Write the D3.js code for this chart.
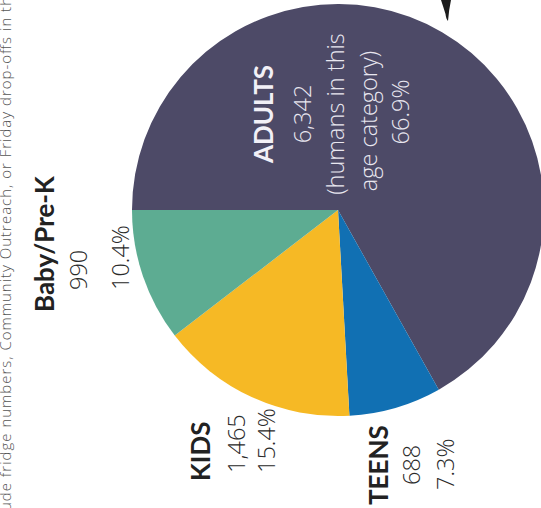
<!DOCTYPE html>
<html>
<head>
<meta charset="utf-8">
<script src="https://cdn.jsdelivr.net/npm/d3@7"></script>
<style>
  html, body { margin: 0; padding: 0; background: #ffffff; }
  svg { display: block; }
</style>
</head>
<body>
<svg id="chart" width="541" height="508"></svg>
<script>
// ---- data ----
const categories = ["ADULTS", "TEENS", "KIDS", "Baby/Pre-K"];
const values = [6342, 688, 1465, 990];
const countLabels = ["6,342", "688", "1,465", "990"];
const percentLabels = ["66.9%", "7.3%", "15.4%", "10.4%"];
const adultsNote = ["(humans in this", "age category)"];
const footnote = "ude fridge numbers, Community Outreach, or Friday drop-offs in th";

// ---- styles / layout ----
const colors = ["#4d4a67", "#1170b3", "#f6b925", "#5dac92"];
const cx = 338, cy = 210, radius = 206;

const svg = d3.select("#chart");

const pie = d3.pie().sort(null).value(d => d)
  .startAngle(-Math.PI / 2).endAngle(3 * Math.PI / 2);
const arc = d3.arc().innerRadius(0).outerRadius(radius);

const g = svg.append("g").attr("transform", `translate(${cx},${cy})`);
g.selectAll("path.slice")
  .data(pie(values))
  .join("path")
  .attr("class", "slice")
  .attr("d", arc)
  .attr("fill", (d, i) => colors[i]);

const headFont = "Lato, 'Open Sans', sans-serif";
const bodyFont = "'Open Sans', 'Noto Sans', sans-serif";

const labelLayout = [
  // ADULTS (inside the slice, centered)
  { x: 273, y: 114, anchor: "middle", text: categories[0], kind: "head", fill: "#f2f0f7" },
  { x: 311, y: 114, anchor: "middle", text: countLabels[0], kind: "body", fill: "#e9e7f0" },
  { x: 344, y: 114, anchor: "middle", text: adultsNote[0], kind: "body", fill: "#e9e7f0" },
  { x: 377, y: 121, anchor: "middle", text: adultsNote[1], kind: "body", fill: "#e9e7f0" },
  { x: 409, y: 112, anchor: "middle", text: percentLabels[0], kind: "body", fill: "#e9e7f0" },
  // TEENS
  { x: 388, y: 505, anchor: "start", text: categories[1], kind: "head", fill: "#222222" },
  { x: 420, y: 485, anchor: "start", text: countLabels[1], kind: "body", fill: "#2a2a2a" },
  { x: 454, y: 490, anchor: "start", text: percentLabels[1], kind: "body", fill: "#2a2a2a" },
  // KIDS
  { x: 210, y: 481, anchor: "start", text: categories[2], kind: "head", fill: "#222222" },
  { x: 245, y: 473, anchor: "start", text: countLabels[2], kind: "body", fill: "#2a2a2a" },
  { x: 275, y: 473, anchor: "start", text: percentLabels[2], kind: "body", fill: "#2a2a2a" },
  // Baby/Pre-K
  { x: 54, y: 312, anchor: "start", text: categories[3], kind: "head", fill: "#222222" },
  { x: 87, y: 290, anchor: "start", text: countLabels[3], kind: "body", fill: "#2a2a2a" },
  { x: 129, y: 290, anchor: "start", text: percentLabels[3], kind: "body", fill: "#2a2a2a" }
];

svg.selectAll("text.lbl")
  .data(labelLayout)
  .join("text")
  .attr("class", "lbl")
  .attr("transform", d => `translate(${d.x},${d.y}) rotate(-90)`)
  .attr("text-anchor", d => d.anchor)
  .attr("font-family", d => d.kind === "head" ? headFont : bodyFont)
  .attr("font-weight", d => d.kind === "head" ? 700 : 300)
  .attr("font-size", d => d.kind === "head" ? 26 : 23.5)
  .attr("fill", d => d.fill)
  .text(d => d.text);

// footnote along the left edge (cut off by the page, as in the scan)
svg.append("text")
  .attr("transform", "translate(11,511) rotate(-90)")
  .attr("font-family", bodyFont)
  .attr("font-weight", 300)
  .attr("font-size", 15)
  .attr("textLength", 514)
  .attr("lengthAdjust", "spacing")
  .attr("fill", "#555555")
  .text(footnote);

// hand-drawn pen stroke at the top
svg.append("path")
  .attr("d", "M441,0 L451,0 Q449,9 448,21 Q446,19 445.5,14 Q443,6 441,0 Z")
  .attr("fill", "#1c1c1c");
</script>
</body>
</html>
